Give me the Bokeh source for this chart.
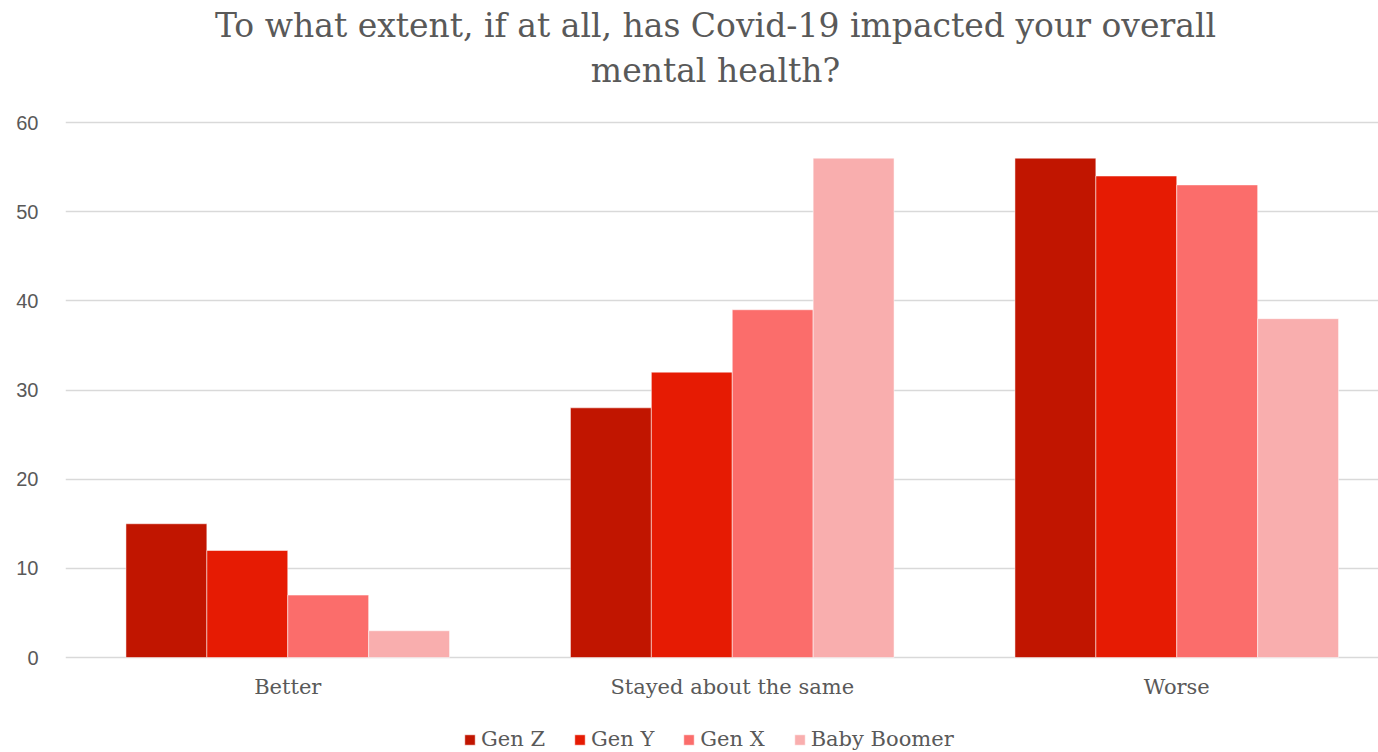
from bokeh.plotting import figure, ColumnDataSource
from bokeh.models import Range1d, FixedTicker, Legend, LegendItem, Label
from bokeh.core.properties import value
from bokeh.embed import file_html
from bokeh.resources import INLINE

categories = ["Better", "Stayed about the same", "Worse"]
series = ["Gen Z", "Gen Y", "Gen X", "Baby Boomer"]
gen_z = [15, 28, 56]
gen_y = [12, 32, 54]
gen_x = [7, 39, 53]
baby_boomer = [3, 56, 38]
y_ticks = [0, 10, 20, 30, 40, 50, 60]
title_line1 = "To what extent, if at all, has Covid-19 impacted your overall"
title_line2 = "mental health?"

colors = ["#C11500", "#E61B03", "#FB6D6B", "#F9AEAE"]
values = [gen_z, gen_y, gen_x, baby_boomer]

TEXT = "#595959"
SERIF = "DejaVu Serif"

# layout in pixels
FW, FH = 1313, 752
Y0_PX, Y60_PX = 657, 122          # page y of value 0 and value 60
PX_PER_UNIT = (Y0_PX - Y60_PX) / 60.0
CAT_PX = 444.5
y_top = 60 + Y60_PX / PX_PER_UNIT
y_bot = -(FH - Y0_PX) / PX_PER_UNIT

p = figure(frame_width=FW, frame_height=FH, output_backend="svg", toolbar_location=None,
           x_range=Range1d(0, FW / CAT_PX), y_range=Range1d(y_bot, y_top),
           x_axis_location=None, min_border_left=65, min_border_right=0,
           min_border_top=0, min_border_bottom=0, outline_line_color=None, title=None)

bar_w = 0.182
renderers = []
for j, (name, vals, col) in enumerate(zip(series, values, colors)):
    xs = [i + 0.5 + (j - 1.5) * bar_w for i in range(len(categories))]
    r = p.vbar(x=xs, top=vals, width=bar_w, fill_color=col,
               line_color="#FFFFFF", line_alpha=0.5, line_width=1)
    renderers.append((name, r))

# category labels under the bars
cat_src = ColumnDataSource(dict(x=[i + 0.5 for i in range(len(categories))],
                                y=[0] * len(categories), text=categories))
p.text(x="x", y="y", text="text", source=cat_src, y_offset=29,
       text_font=value(SERIF), text_font_size="21px", text_color=TEXT,
       text_align="center", text_baseline="middle")

p.yaxis.ticker = FixedTicker(ticks=y_ticks)
p.yaxis.axis_line_color = None
p.yaxis.major_tick_line_color = None
p.yaxis.minor_tick_line_color = None
p.yaxis.major_label_text_font = "Liberation Sans"
p.yaxis.major_label_text_font_size = "20px"
p.yaxis.major_label_text_color = TEXT
p.yaxis.major_label_standoff = 21

p.xgrid.grid_line_color = None
p.ygrid.grid_line_color = "#D9D9D9"
p.ygrid.grid_line_width = 1.5

# title, two centred lines
tx = (715 - 65) / CAT_PX
for line, py in ((title_line1, 25), (title_line2, 70)):
    p.add_layout(Label(x=tx, y=(Y0_PX - py) / PX_PER_UNIT, text=line,
                       text_font=SERIF, text_font_size="33px", text_color=TEXT,
                       text_align="center", text_baseline="middle"))

legend = Legend(items=[LegendItem(label=n, renderers=[r]) for n, r in renderers],
                orientation="horizontal", location=(398, 1),
                label_text_font=SERIF, label_text_font_size="21px",
                label_text_color=TEXT, glyph_width=13, glyph_height=13,
                label_standoff=5, spacing=28, border_line_color=None,
                background_fill_color=None, background_fill_alpha=0,
                padding=0, margin=0)
p.add_layout(legend, "center")

open("out.html", "w").write(file_html(p, INLINE))
